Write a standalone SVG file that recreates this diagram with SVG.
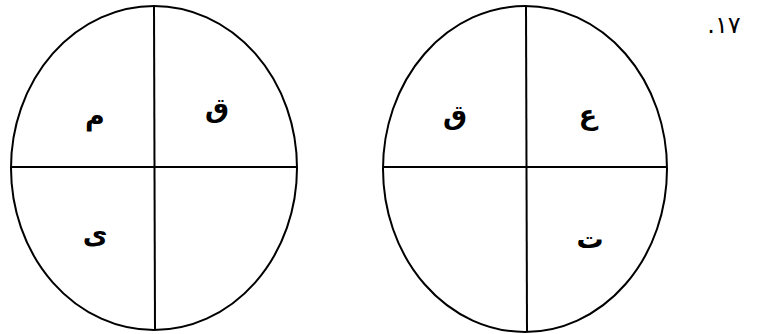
<svg xmlns="http://www.w3.org/2000/svg" width="760" height="334" viewBox="0 0 760 334">
<style>
.c{fill:none;stroke:#000;stroke-width:2}
.l{stroke:#000;stroke-width:2}
.t{font-family:"DejaVu Sans",sans-serif;font-size:27px;font-weight:bold;fill:#000;text-anchor:middle}
</style>
<rect width="760" height="334" fill="#fff"/>
<g id="circle1">
<ellipse class="c" cx="154" cy="168" rx="143" ry="162"/>
</g>
<g id="circle2">
<ellipse class="c" cx="525" cy="169" rx="142" ry="163"/>
</g>
<g id="connectors">
<line class="l" x1="154" y1="6" x2="155" y2="330"/>
<line class="l" x1="11" y1="167" x2="297" y2="167"/>
<line class="l" x1="526" y1="6" x2="527" y2="332"/>
<line class="l" x1="383" y1="167" x2="667" y2="167"/>
</g>
<g id="labels">
<text class="t" x="95" y="125">م</text>
<text class="t" x="217" y="117">ق</text>
<text class="t" x="95" y="243">ی</text>
<text class="t" x="455" y="124">ق</text>
<text class="t" x="588" y="124">ع</text>
<text class="t" x="590" y="248">ت</text>
<text class="t" x="724" y="33" style="font-weight:normal;font-size:24px">.۱۷</text>
</g>
</svg>
